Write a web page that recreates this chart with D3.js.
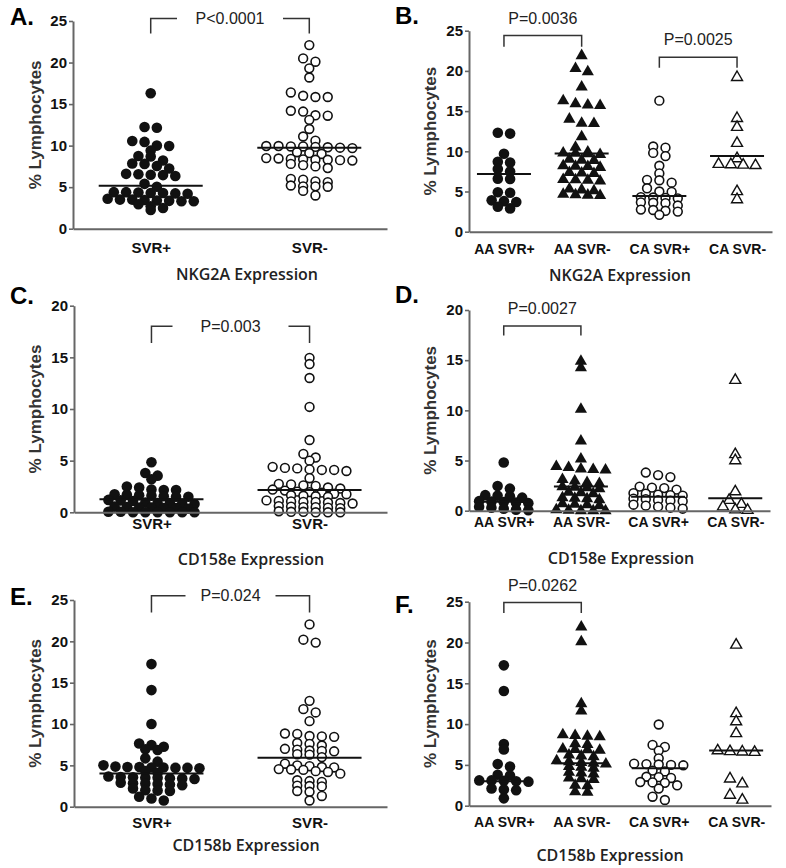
<!DOCTYPE html>
<html><head><meta charset="utf-8">
<script src="https://cdn.jsdelivr.net/npm/d3@7"></script>
<style>body{margin:0;background:#fff}svg{display:block}</style>
</head><body>
<script>
// ---------------- DATA ----------------
const catsTwo = ["SVR+", "SVR-"];
const catsFour = ["AA SVR+", "AA SVR-", "CA SVR+", "CA SVR-"];
const yTicks25 = [0, 5, 10, 15, 20, 25];
const yTicks20 = [0, 5, 10, 15, 20];
const axisTitles = ["NKG2A Expression", "NKG2A Expression", "CD158e Expression", "CD158e Expression", "CD158b Expression", "CD158b Expression"];
const yTitle = "% Lymphocytes";
const pValues = ["P<0.0001", "P=0.0036", "P=0.0025", "P=0.003", "P=0.0027", "P=0.024", "P=0.0262"];

// Panel A – NKG2A
const aSvrPos = [16.3, 12.25, 12.15, 10.55, 10.45, 10.0, 9.95, 9.4, 8.75, 8.7, 8.2, 7.85, 7.8, 7.55, 7.25,
  6.6, 6.55, 6.5, 6.45, 6.35, 5.4, 5.05, 4.4, 4.4, 4.35, 4.3, 4.3, 4.25, 4.2,
  3.6, 3.5, 3.5, 3.45, 3.4, 3.35, 3.3, 3.3, 2.95, 2.7, 2.5, 2.25];
const aSvrNeg = [22.1, 20.5, 20.1, 19.3, 18.2, 16.4, 16.0, 15.85, 15.85, 14.2, 14.1, 13.65, 13.6, 13.1, 12.0, 11.1, 10.6,
  9.95, 9.95, 9.9, 9.9, 9.85, 9.8, 9.75, 9.7, 9.2, 9.1, 9.0, 8.5, 8.45, 8.4, 8.35, 8.3, 8.3, 8.25, 8.2,
  7.8, 7.65, 7.5, 7.3, 6.0, 5.9, 5.7, 5.6, 5.2, 5.1, 5.1, 5.05, 4.55, 4.0];
const aMedians = [5.18, 9.75];

// Panel B – NKG2A by group
const bAaPos = [12.3, 12.2, 9.7, 8.7, 8.6, 7.8, 7.5, 6.6, 6.55, 4.9, 4.85, 3.9, 3.8, 3.7, 3.1, 2.9];
const bAaNeg = [21.9, 20.3, 19.9, 18.0, 16.3, 15.9, 15.75, 15.7, 14.0, 13.5, 13.45, 11.8, 10.5,
  9.9, 9.8, 9.75, 9.7, 9.6, 9.0, 8.9, 8.85, 8.2, 8.15, 8.1, 8.0, 7.35, 7.3, 7.25,
  6.5, 6.45, 6.4, 6.3, 5.3, 5.2, 5.1, 4.65, 4.6, 4.55, 4.5];
const bCaPos = [16.3, 10.6, 10.45, 9.8, 9.4, 8.2, 7.25, 6.45, 6.4, 6.1, 5.4, 5.0, 4.95,
  4.3, 4.25, 4.2, 4.15, 3.65, 3.6, 3.55, 3.25, 2.75, 2.7, 2.6, 2.5, 2.1];
const bCaNeg = [19.2, 14.1, 13.0, 11.0, 9.1, 8.4, 8.35, 8.3, 8.25, 5.0, 4.0];
const bMedians = [7.17, 9.74, 4.44, 9.4];

// Panel C – CD158e
const cSvrPos = [4.85, 3.8, 3.55, 3.2, 2.5, 2.4, 2.2, 2.15, 2.15,
  1.75, 1.7, 1.65, 1.6, 1.55, 1.5, 1.5, 1.2, 1.15, 1.1, 0.95, 0.9, 0.9, 0.85, 0.8,
  0.55, 0.5, 0.45, 0.45, 0.4, 0.4, 0.35, 0.05, 0.05, 0.0, 0.0, 0.0, 0.0, 0.0, 0.0];
const cSvrNeg = [14.95, 14.35, 13.0, 10.2, 7.0, 5.65, 5.3, 5.0, 4.4, 4.3, 4.25, 4.15, 4.1, 4.1, 4.0, 3.3,
  2.75, 2.7, 2.6, 2.55, 2.4, 2.3, 2.2, 2.1, 2.0, 1.95, 1.9, 1.8, 1.75, 1.65, 1.6, 1.55, 1.5,
  1.15, 1.1, 1.05, 1.0, 1.0, 0.95, 0.9, 0.85, 0.6, 0.55, 0.5, 0.5, 0.45, 0.4,
  0.1, 0.05, 0.05, 0.0, 0.0, 0.0];
const cMedians = [1.26, 2.16];

// Panel D – CD158e by group
const dAaPos = [4.8, 2.45, 2.2, 1.55, 1.5, 1.45, 1.3, 0.95, 0.9, 0.85, 0.8, 0.75, 0.4, 0.3, 0.2, 0.1, 0.05];
const dAaNeg = [14.9, 14.25, 10.1, 6.95, 5.15, 4.4, 4.3, 4.15, 4.1, 4.05, 3.1, 2.95, 2.8, 2.7,
  2.4, 2.35, 2.3, 2.2, 1.85, 1.8, 1.7, 1.3, 1.25, 1.2, 1.1, 0.7, 0.65, 0.6, 0.5, 0.1, 0.05, 0.0, 0.0, 0.0];
const dCaPos = [3.8, 3.55, 3.35, 2.4, 2.3, 2.25, 2.1, 1.75, 1.7, 1.6, 1.55, 1.5,
  1.2, 1.15, 1.05, 1.0, 0.95, 0.6, 0.5, 0.4, 0.3, 0.2];
const dCaNeg = [13.0, 5.6, 5.0, 1.9, 1.05, 0.65, 0.4, 0.1, 0.05];
const dMedians = [0.9, 2.4, 1.4, 1.23];

// Panel E – CD158b
const eSvrPos = [17.25, 14.1, 10.0, 7.65, 7.45, 7.25, 6.95, 6.85, 5.85, 5.45,
  5.0, 4.85, 4.8, 4.8, 4.75, 4.75, 4.7, 4.7, 4.65, 4.3, 4.1,
  3.65, 3.6, 3.55, 3.5, 3.5, 3.45, 3.4, 3.35, 2.9, 2.85, 2.8, 2.75, 2.7, 2.6,
  2.2, 2.0, 1.95, 1.9, 1.2, 1.0, 0.75];
const eSvrNeg = [22.05, 20.2, 19.85, 12.8, 11.8, 11.4, 10.35, 8.85, 8.8, 8.55, 8.5, 8.45,
  7.7, 7.6, 7.4, 7.0, 6.9, 6.8, 6.75, 6.7, 6.35, 6.3, 6.0, 5.2, 5.0, 4.9, 4.8, 4.75,
  4.55, 4.5, 4.45, 4.3, 4.2, 4.0, 3.2, 3.1, 3.0, 2.55, 2.5, 2.45, 1.9, 1.8, 1.3, 0.75];
const eMedians = [4.03, 5.93];

// Panel F – CD158b by group
const fAaPos = [17.2, 14.05, 7.55, 6.9, 5.1, 4.8, 3.8, 3.7, 3.1, 3.1, 3.05, 3.0, 2.95, 2.1, 2.0, 1.9, 0.9];
const fAaNeg = [21.9, 20.1, 12.5, 11.6, 8.7, 8.6, 8.5, 8.45, 7.6, 7.5, 6.95, 6.9, 6.85, 6.8,
  6.2, 6.1, 6.0, 5.5, 5.4, 5.3, 5.2, 5.1, 4.8, 4.7, 4.6, 4.1, 4.0, 3.9, 3.4, 3.3, 3.2, 2.5, 2.45, 1.7, 1.65];
const fCaPos = [9.95, 7.45, 7.2, 6.75, 5.8, 5.15, 5.1, 5.05, 5.0, 4.95, 4.3, 4.2,
  3.55, 3.5, 3.4, 2.9, 2.85, 2.8, 2.5, 2.1, 1.1, 0.7];
const fCaNeg = [19.7, 11.3, 10.3, 8.85, 6.75, 6.65, 6.6, 6.55, 3.3, 2.7, 1.3, 0.7];
const fMedians = [3.0, 5.19, 4.58, 6.75];

// ---------------- LAYOUT / STYLE ----------------
const FONT = "'Liberation Sans', Arial, Helvetica, sans-serif";
const TITLEFONT = "'Open Sans', 'Noto Sans', sans-serif";
const panels = [
  {letter: "A.", lx: 10, ly: 25, cats: catsTwo, series: [aSvrPos, aSvrNeg], marks: ["dot", "ring"], medians: aMedians,
   ymax: 25, ticks: yTicks25, left: 73, right: 387, top: 21, bottom: 228.7, pad: 0.49, lblOff: 13.9, lblSize: 15,
   title: axisTitles[0], tx: 247, ty: 280, ytx: 41,
   brackets: [{a: 0, b: 1, top: 25.3, tip: 23.5, text: pValues[0], gap: 53}]},
  {letter: "B.", lx: 395, ly: 23.5, cats: catsFour, series: [bAaPos, bAaNeg, bCaPos, bCaNeg], marks: ["dot", "tri", "ring", "otri"], medians: bMedians,
   ymax: 25, ticks: yTicks25, left: 469, right: 772, top: 30.7, bottom: 231.7, pad: 0.45, lblOff: 12.6, lblSize: 14,
   title: axisTitles[1], tx: 620, ty: 280.5, ytx: 436,
   brackets: [{a: 0, b: 1, top: 24.4, tip: 23.0, text: pValues[1]}, {a: 2, b: 3, top: 21.7, tip: 20.4, text: pValues[2]}]},
  {letter: "C.", lx: 10, ly: 304, cats: catsTwo, series: [cSvrPos, cSvrNeg], marks: ["dot", "ring"], medians: cMedians,
   ymax: 20, ticks: yTicks20, left: 74, right: 387, top: 305.7, bottom: 512.3, pad: 0.49, lblOff: 6, lblSize: 15,
   title: axisTitles[2], tx: 251, ty: 565, ytx: 41,
   brackets: [{a: 0, b: 1, top: 18.0, tip: 16.4, text: pValues[3], gap: 58}]},
  {letter: "D.", lx: 395, ly: 303, cats: catsFour, series: [dAaPos, dAaNeg, dCaPos, dCaNeg], marks: ["dot", "tri", "ring", "otri"], medians: dMedians,
   ymax: 20, ticks: yTicks20, left: 469, right: 770, top: 310, bottom: 510.7, pad: 0.45, lblOff: 6, lblSize: 14,
   title: axisTitles[3], tx: 621, ty: 564, ytx: 436,
   brackets: [{a: 0, b: 1, top: 18.4, tip: 17.45, text: pValues[4]}]},
  {letter: "E.", lx: 10, ly: 605, cats: catsTwo, series: [eSvrPos, eSvrNeg], marks: ["dot", "ring"], medians: eMedians,
   ymax: 25, ticks: yTicks25, left: 74, right: 387, top: 600, bottom: 806.7, pad: 0.49, lblOff: 10.9, lblSize: 15,
   title: axisTitles[4], tx: 246, ty: 850.7, ytx: 41,
   brackets: [{a: 0, b: 1, top: 25.5, tip: 23.5, text: pValues[5], gap: 45}]},
  {letter: "F.", lx: 395, ly: 613, cats: catsFour, series: [fAaPos, fAaNeg, fCaPos, fCaNeg], marks: ["dot", "tri", "ring", "otri"], medians: fMedians,
   ymax: 25, ticks: yTicks25, left: 469, right: 771, top: 601.7, bottom: 805.7, pad: 0.45, lblOff: 11.6, lblSize: 14,
   title: axisTitles[5], tx: 610, ty: 860.7, ytx: 436,
   brackets: [{a: 0, b: 1, top: 24.9, tip: 23.6, text: pValues[6]}]}
];

const svg = d3.select("body").append("svg").attr("width", 786).attr("height", 868)
  .style("font-family", FONT);

// Prism-like row layout: points whose pixel y lie within rowH of a row's first point share a row
function rowLayout(values, y, cx, maxHalf, rowH, spacing) {
  const pts = values.map(v => ({v, y: y(v)})).sort((p, q) => p.y - q.y);
  const rows = [];
  let cur = null;
  pts.forEach(p => {
    if (!cur || p.y - cur.y0 > rowH) { cur = {y0: p.y, pts: []}; rows.push(cur); }
    cur.pts.push(p);
  });
  rows.forEach(r => {
    const n = r.pts.length;
    const s = n > 1 ? Math.min(spacing, 2 * maxHalf / (n - 1)) : 0;
    r.pts.forEach((p, i) => { p.x = cx + (i - (n - 1) / 2) * s; });
  });
  return pts;
}

const triBig = d3.symbol(d3.symbolTriangle, 64)();
const triOpen = d3.symbol(d3.symbolTriangle, 52)();

panels.forEach(P => {
  const g = svg.append("g");
  const y = d3.scaleLinear().domain([0, P.ymax]).range([P.bottom, P.top]);
  const x = d3.scalePoint().domain(P.cats).range([P.left, P.right]).padding(P.pad);
  const four = P.cats.length === 4;
  const maxHalf = four ? 25 : 48;
  const medHalf = four ? 27 : 52;

  // panel letter
  g.append("text").attr("x", P.lx).attr("y", P.ly).text(P.letter)
    .style("font-size", "24px").style("font-weight", "bold").attr("fill", "#000");

  // points
  P.series.forEach((vals, i) => {
    const cx = x(P.cats[i]);
    const pts = rowLayout(vals, y, cx, maxHalf, 5, 12.3);
    const kind = P.marks[i];
    const sel = g.append("g").selectAll("path").data(pts).join("path")
      .attr("transform", d => `translate(${d.x},${d.y})`);
    if (kind === "dot") sel.attr("d", d3.symbol(d3.symbolCircle, Math.PI * 5.3 * 5.3)()).attr("fill", "#111");
    else if (kind === "ring") sel.attr("d", d3.symbol(d3.symbolCircle, Math.PI * 4.4 * 4.4)()).attr("fill", "#fff").attr("stroke", "#111").attr("stroke-width", 1.6);
    else if (kind === "tri") sel.attr("d", triBig).attr("fill", "#111");
    else sel.attr("d", triOpen).attr("fill", "#fff").attr("stroke", "#111").attr("stroke-width", 1.4);
  });

  // median lines
  g.append("g").selectAll("line").data(P.medians).join("line")
    .attr("x1", (d, i) => x(P.cats[i]) - medHalf).attr("x2", (d, i) => x(P.cats[i]) + medHalf)
    .attr("y1", d => y(d)).attr("y2", d => y(d))
    .attr("stroke", "#111").attr("stroke-width", 2);

  // y axis
  const ya = g.append("g").attr("transform", `translate(${P.left},0)`)
    .call(d3.axisLeft(y).tickValues(P.ticks).tickFormat(d3.format("d")).tickSize(4).tickSizeOuter(0).tickPadding(2));
  ya.select(".domain").attr("stroke", "#666").attr("stroke-width", 2);
  ya.selectAll(".tick line").attr("stroke", "#666").attr("stroke-width", 1.6);
  ya.selectAll(".tick text").style("font-size", "15px").style("font-weight", "bold").style("font-family", FONT).attr("fill", "#111");

  // x axis
  const xa = g.append("g").attr("transform", `translate(0,${P.bottom})`)
    .call(d3.axisBottom(x).tickSize(0).tickSizeOuter(0).tickPadding(P.lblOff));
  xa.select(".domain").attr("stroke", "#666").attr("stroke-width", 2);
  xa.selectAll(".tick text").style("font-size", P.lblSize + "px").style("font-weight", "bold").style("font-family", FONT).attr("fill", "#111");

  // y title
  g.append("text").attr("transform", `translate(${P.ytx},${(P.top + P.bottom) / 2}) rotate(-90)`)
    .attr("text-anchor", "middle").text(yTitle)
    .style("font-size", "17px").style("font-weight", "bold").attr("fill", "#333");

  // x title
  g.append("text").attr("x", P.tx).attr("y", P.ty).attr("text-anchor", "middle").text(P.title)
    .style("font-family", TITLEFONT).style("font-size", "16px").style("font-weight", 600).attr("fill", "#222");

  // significance brackets
  P.brackets.forEach(B => {
    const x1 = x(P.cats[B.a]), x2 = x(P.cats[B.b]);
    const yt = y(B.top), yb = y(B.tip), mid = (x1 + x2) / 2;
    const bg = g.append("g").attr("fill", "none").attr("stroke", "#333").attr("stroke-width", 1.5);
    if (B.gap) {
      bg.append("path").attr("d", `M${x1},${yb}V${yt}H${mid - B.gap}`);
      bg.append("path").attr("d", `M${mid + B.gap},${yt}H${x2}V${yb}`);
      g.append("text").attr("x", mid).attr("y", yt + 5.5).attr("text-anchor", "middle").text(B.text)
        .style("font-size", "16px").attr("fill", "#222");
    } else {
      bg.append("path").attr("d", `M${x1},${yb}V${yt}H${x2}V${yb}`);
      g.append("text").attr("x", mid).attr("y", yt - 12).attr("text-anchor", "middle").text(B.text)
        .style("font-size", "16px").attr("fill", "#222");
    }
  });
});
</script>
</body></html>
